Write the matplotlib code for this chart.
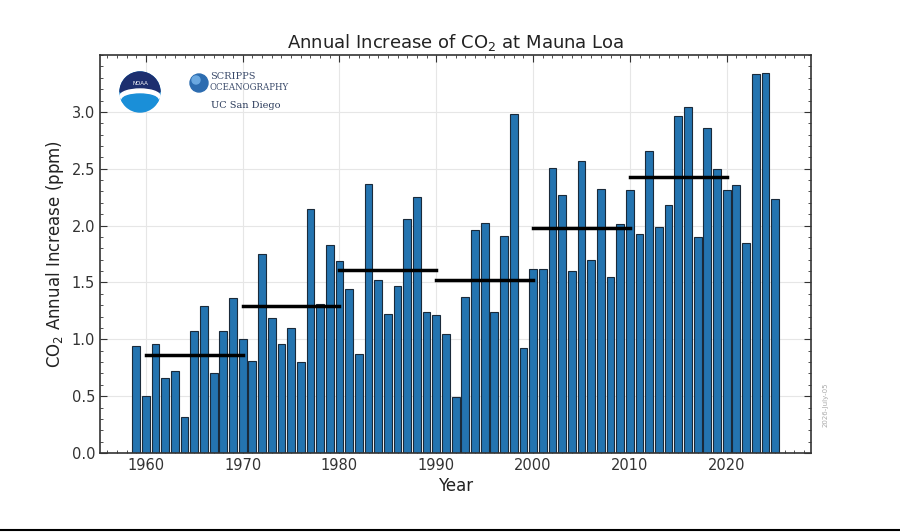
import matplotlib
matplotlib.use('Agg')
import matplotlib.pyplot as plt
from matplotlib.patches import Circle, Wedge, Ellipse
from matplotlib.lines import Line2D
from matplotlib.ticker import MultipleLocator

# annual increase of CO2 at Mauna Loa (ppm)
years = list(range(1959, 2026))
increase = [0.94, 0.50, 0.96, 0.66, 0.72, 0.32, 1.07, 1.29, 0.70, 1.07,
            1.36, 1.00, 0.81, 1.75, 1.19, 0.96, 1.10, 0.80, 2.15, 1.31,
            1.83, 1.69, 1.44, 0.87, 2.37, 1.52, 1.22, 1.47, 2.06, 2.25,
            1.24, 1.21, 1.05, 0.49, 1.37, 1.96, 2.02, 1.24, 1.91, 2.98,
            0.92, 1.62, 1.62, 2.51, 2.27, 1.60, 2.57, 1.70, 2.32, 1.55,
            2.01, 2.31, 1.93, 2.66, 1.99, 2.18, 2.96, 3.04, 1.90, 2.86,
            2.50, 2.31, 2.36, 1.85, 3.33, 3.34, 2.23]

# decadal averages
decades = [1960, 1970, 1980, 1990, 2000, 2010]
decade_means = [0.86, 1.29, 1.61, 1.52, 1.98, 2.43]

fig = plt.figure(figsize=(9, 5.32), dpi=100)
ax = fig.add_axes([0.111, 0.1485, 0.790, 0.748])

ax.bar(years, increase, width=0.8, color='#2474b0', edgecolor='#1a2a3a',
       linewidth=0.8, zorder=2)
for d, m in zip(decades, decade_means):
    ax.plot([d, d + 10], [m, m], color='black', linewidth=2.5, zorder=3)

ax.set_xlim(1955.25, 2028.7)
ax.set_ylim(0, 3.5)
ax.set_yticks([0.0, 0.5, 1.0, 1.5, 2.0, 2.5, 3.0])
ax.set_xticks([1960, 1970, 1980, 1990, 2000, 2010, 2020])
ax.xaxis.set_minor_locator(MultipleLocator(1))
ax.yaxis.set_minor_locator(MultipleLocator(0.1))
ax.tick_params(which='both', direction='in', top=True, right=True,
               labelsize=10.5, colors='#333333')
ax.tick_params(which='major', length=5)
ax.tick_params(which='minor', length=2.5)
ax.grid(True, color='#e6e6e6', linewidth=0.8, zorder=0)
ax.set_axisbelow(True)
for s in ax.spines.values():
    s.set_linewidth(1.2)
    s.set_color('#333333')

ax.set_title('Annual Increase of CO$_2$ at Mauna Loa', fontsize=13, color='#222222', pad=5)
ax.set_xlabel('Year', fontsize=12, color='#222222', labelpad=3)
ax.set_ylabel('CO$_2$ Annual Increase (ppm)', fontsize=12, color='#222222')

# rough stand-ins for the logos, in a pixel-sized overlay (x 110-310, y 60-120)
lg = fig.add_axes([110 / 900, 1 - 120 / 532, 200 / 900, 60 / 532])
lg.set_xlim(0, 200)
lg.set_ylim(60, 0)
lg.axis('off')
lg.add_patch(Circle((30, 32), 20, color='#1a8fd8'))
lg.add_patch(Wedge((30, 32), 20, 180, 360, color='#1d2f6f'))
lg.add_patch(Ellipse((30, 36), 40, 14, color='white'))
lg.add_patch(Ellipse((30, 40), 36, 12, color='#1a8fd8'))
lg.text(30, 24, 'NOAA', fontsize=4, color='white', ha='center', va='center')
lg.add_patch(Circle((89, 23), 9, color='#2c6cb0'))
lg.add_patch(Circle((86, 20), 4, color='#6aa8e0'))
lg.text(100, 17, 'SCRIPPS', fontsize=7, family='DejaVu Serif', color='#3a4a6a', va='center')
lg.text(100, 28, 'OCEANOGRAPHY', fontsize=6.2, family='DejaVu Serif', color='#3a4a6a', va='center')
lg.text(101, 46, 'UC San Diego', fontsize=7, family='DejaVu Serif', color='#2a3a5a', va='center')

fig.text(0.914, 0.20, '2026-July-05', rotation=90, fontsize=5, color='#aaaaaa')
fig.add_artist(Line2D([0, 1], [0.004, 0.004], color='black', linewidth=1.5))

plt.savefig('out.png')
